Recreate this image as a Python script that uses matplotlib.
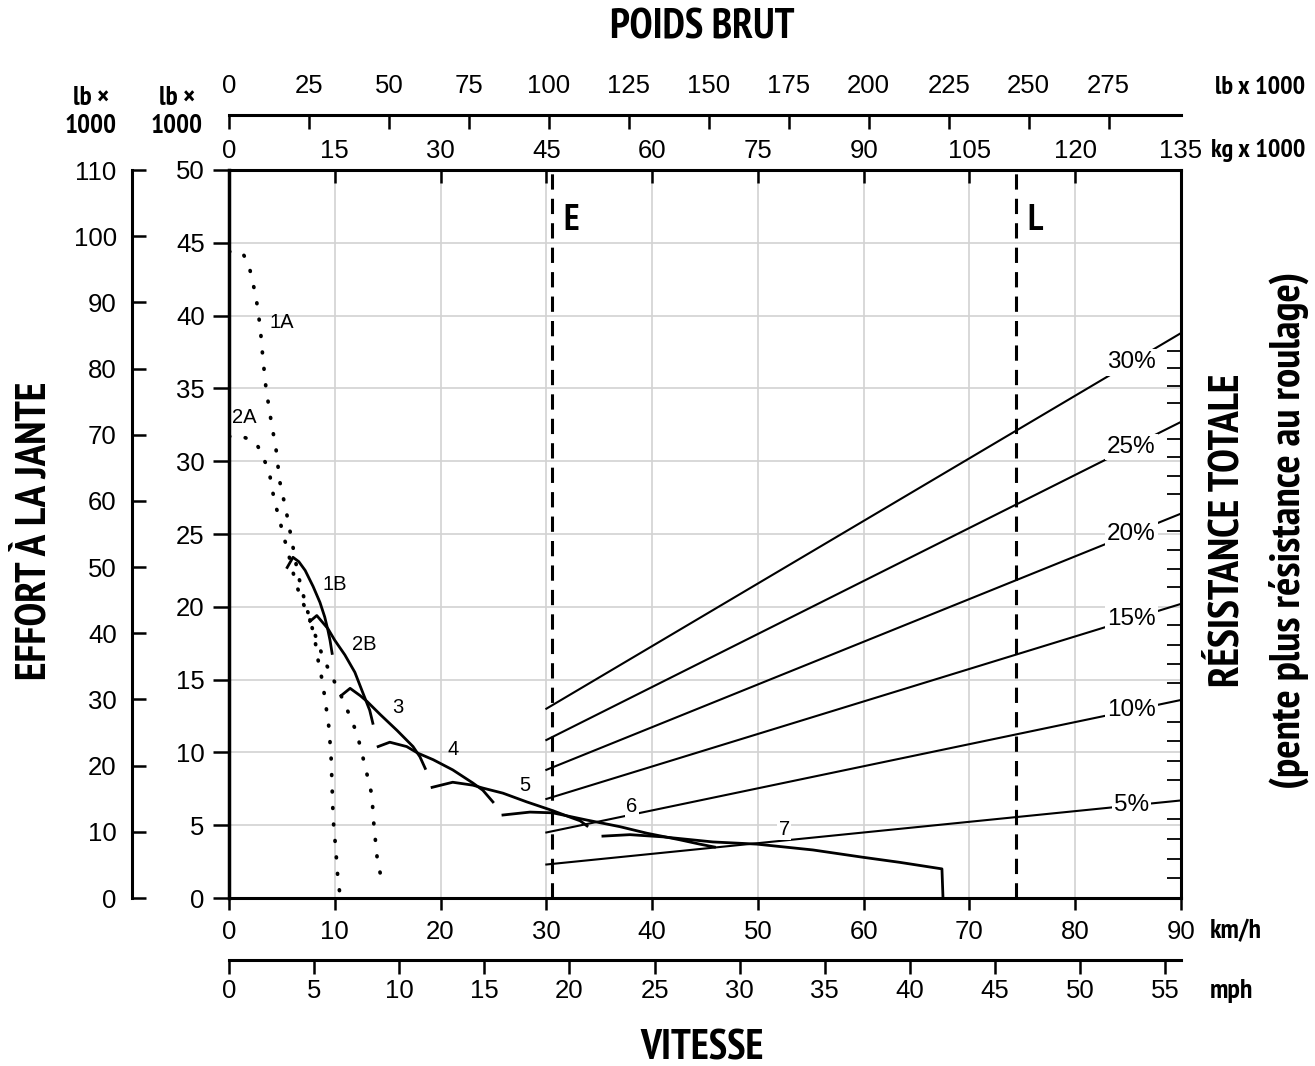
import numpy as np
import matplotlib.pyplot as plt
from matplotlib import font_manager
from matplotlib.font_manager import FontProperties

# --- ticks de los ejes ---
kmh_ticks = list(range(0, 91, 10))
mph_ticks = list(range(0, 56, 5))
effort_ticks = list(range(0, 51, 5))
effort_outer_ticks = list(range(0, 111, 10))
kg_ticks = list(range(0, 136, 15))
lb_ticks = list(range(0, 276, 25))
grade_minor_ticks = [g for g in range(1, 30) if g % 5]

# poids brut vide (E) / en charge (L), kg x 1000
weight_E = 45.8
weight_L = 111.6

# courbes convertisseur (pointillé)
speed_1A = [0.0, 1.3, 1.9, 2.55, 2.95, 3.2, 3.5, 3.95, 4.45, 4.8, 5.4, 5.95, 6.5, 7.2,
            7.85, 8.15, 8.5, 8.8, 9.05, 9.45, 9.65, 9.75, 9.85, 10.1, 10.3, 10.5]
force_1A = [44.4, 44.3, 43.4, 41.3, 39.2, 37.1, 35.0, 32.9, 30.8, 28.6, 26.6, 24.5, 22.3, 20.3,
            18.6, 17.6, 16.0, 15.0, 13.8, 11.7, 9.7, 7.55, 5.4, 3.3, 1.25, 0.2]
speed_2A = [0.0, 1.25, 2.55, 3.2, 3.8, 4.05, 4.35, 4.75, 5.1, 5.5, 6.25, 6.7, 7.65,
            8.9, 10.85, 12.1, 12.85, 13.5, 13.7, 14.0, 14.55]
force_2A = [31.7, 31.7, 31.3, 30.3, 29.3, 28.2, 27.1, 26.1, 25.0, 24.0, 21.8, 20.8, 19.1,
            16.5, 13.5, 11.3, 9.1, 7.1, 5.0, 2.8, 0.75]

# courbes prise directe (trait plein)
speed_1B = [5.5, 6.05, 6.6, 7.2, 7.95, 8.6, 9.05, 9.35, 9.55, 9.75]
force_1B = [22.7, 23.4, 23.1, 22.5, 21.4, 20.3, 19.3, 18.4, 17.7, 16.8]
speed_2B = [7.65, 8.3, 9.35, 10.0, 10.95, 11.9, 12.65, 13.3, 13.6]
force_2B = [19.0, 19.4, 18.5, 17.7, 16.7, 15.5, 14.1, 12.9, 12.0]
speed_3 = [10.6, 11.45, 12.4, 13.05, 14.3, 15.9, 17.4, 18.05, 18.55]
force_3 = [13.9, 14.4, 13.9, 13.5, 12.6, 11.5, 10.4, 9.7, 8.9]
speed_4 = [14.1, 15.2, 16.8, 17.85, 19.3, 21.15, 23.05, 24.0, 24.95]
force_4 = [10.4, 10.7, 10.4, 9.95, 9.5, 8.8, 7.9, 7.4, 6.6]
speed_5 = [19.2, 21.15, 23.05, 24.0, 25.9, 28.15, 30.6, 32.25, 33.2, 33.85]
force_5 = [7.6, 7.95, 7.75, 7.55, 7.2, 6.6, 6.0, 5.55, 5.3, 4.95]
speed_6 = [25.9, 28.45, 30.6, 33.85, 36.95, 39.5, 42.6, 44.5, 45.9]
force_6 = [5.7, 5.9, 5.85, 5.35, 4.9, 4.45, 4.0, 3.7, 3.5]
speed_7 = [35.35, 37.9, 41.0, 45.75, 49.9, 55.2, 59.9, 63.4, 67.4, 67.5]
force_7 = [4.25, 4.35, 4.2, 3.85, 3.7, 3.3, 2.8, 2.45, 2.0, 0.0]

# droites de résistance totale (30 -> 90 km/h)
grade_pct = [5, 10, 15, 20, 25, 30]
grade_speed = [30, 90]
grade_start = [2.3, 4.5, 6.8, 8.8, 10.85, 13.0]
grade_end = [6.7, 13.6, 20.2, 26.4, 32.7, 38.8]

# étiquettes des courbes
curve_names = ['1A', '2A', '1B', '2B', '3', '4', '5', '6', '7']
curve_lab_x = [5.0, 1.4, 10.0, 12.8, 16.0, 21.2, 28.0, 38.1, 52.5]
curve_lab_y = [39.5, 33.0, 21.5, 17.4, 13.1, 10.2, 7.7, 6.3, 4.7]

plt.rcParams['font.family'] = ['Liberation Sans', 'DejaVu Sans']


# busco una fuente bold estrecha (tipo Arial Narrow)
def pick_narrow_bold():
    best = None
    for f in font_manager.fontManager.ttflist:
        w = f.weight if isinstance(f.weight, int) else font_manager.weight_dict.get(f.weight, 400)
        label = (f.name + ' ' + f.fname).lower()
        narrowish = ('narrow' in label or 'condensed' in label
                     or f.stretch in ('condensed', 'semi-condensed', 'extra-condensed'))
        if not narrowish or f.style != 'normal' or not (650 <= w <= 750):
            continue
        rank = 0 if 'narrow' in label else 2
        if 'roboto' in label:
            rank = 1
        if 'extra' in label or 'semi' in label or 'ultra' in label:
            rank += 5
        if best is None or rank < best[0]:
            best = (rank, f.fname)
    return best[1] if best else None


narrow_file = pick_narrow_bold()
size_k = 1.0 if narrow_file else 0.8


def narrow_font(size):
    if narrow_file:
        return FontProperties(fname=narrow_file, size=size)
    return FontProperties(family='DejaVu Sans', weight='bold', size=size * size_k)


W, H = 1315, 1066


def fx(px):
    return px / W


def fy(py):
    return 1 - py / H


def bold(x, y, s, size, **kw):
    fig.text(fx(x), fy(y), s, fontproperties=narrow_font(size), va='center', **kw)


fig = plt.figure(figsize=(W / 100, H / 100), dpi=100)
ax = fig.add_axes([fx(229), fy(898), (1181 - 229) / W, (898 - 170) / H])
ax.set_xlim(0, 90)
ax.set_ylim(0, 50)
ax.set_axisbelow(True)
ax.grid(True, color='#d2d2d2', lw=1.2)

TICK_FS = 18.5
ax.set_xticks(kmh_ticks)
ax.set_yticks(effort_ticks)
ax.tick_params(axis='x', direction='out', length=8.5, width=1.8, pad=7, labelsize=TICK_FS)
ax.tick_params(axis='y', direction='out', length=11.5, width=1.8, pad=6, labelsize=TICK_FS)
ax.spines['left'].set_linewidth(2.5)
ax.spines['bottom'].set_linewidth(2.2)
ax.spines['right'].set_linewidth(2.0)
ax.spines['top'].set_linewidth(1.8)

# eje exterior izquierdo
outer = ax.secondary_yaxis(-97 / 952, functions=(lambda v: v * 2.2, lambda v: v / 2.2))
outer.set_yticks(effort_outer_ticks)
outer.tick_params(direction='in', length=10, width=1.8, pad=11, labelsize=TICK_FS)

# eje mph
mph = ax.secondary_xaxis(-62 / 728, functions=(lambda v: v / 1.609344, lambda v: v * 1.609344))
mph.set_xticks(mph_ticks)
mph.tick_params(direction='out', length=10, width=1.8, pad=4, labelsize=TICK_FS)

# ejes de peso arriba
kg = ax.secondary_xaxis('top', functions=(lambda v: v * 1.5, lambda v: v / 1.5))
kg.set_xticks(kg_ticks)
kg.tick_params(direction='in', length=9, width=1.8, pad=5, labelsize=TICK_FS)
lb = ax.secondary_xaxis(1 + 55 / 728, functions=(lambda v: v * 1.5 * 2.2046, lambda v: v / 1.5 / 2.2046))
lb.set_xticks(lb_ticks)
lb.tick_params(direction='in', length=10, width=1.8, pad=12, labelsize=TICK_FS)


# escala de pendiente a la derecha
def to_grade(v):
    return 100 * np.tan(np.arcsin(np.clip(np.asarray(v, float) / 135, -0.999, 0.999)))


def from_grade(g):
    return 135 * np.sin(np.arctan(np.asarray(g, float) / 100))


grade_ax = ax.secondary_yaxis('right', functions=(to_grade, from_grade))
grade_ax.set_yticks(grade_minor_ticks)
grade_ax.tick_params(direction='in', length=10, width=1.3, labelright=False)

# los ejes secundarios encima de la grilla
for sec in (outer, mph, kg, lb, grade_ax):
    sec.set_zorder(2.6)
    for sp in sec.spines.values():
        sp.set_linewidth(2.2)

# E / L
for w, name in ((weight_E, 'E'), (weight_L, 'L')):
    ax.axvline(w / 1.5, color='black', lw=2.2, ls=(0, (5, 3)), zorder=2)
    ax.text(w / 1.5 + 1.1, 46.5, name, fontproperties=narrow_font(26), va='center', ha='left')

# droites de pente
for g, y0, y1 in zip(grade_pct, grade_start, grade_end):
    ax.plot(grade_speed, [y0, y1], color='black', lw=1.5, zorder=3)
    xl = 85.3
    yl = y0 + (y1 - y0) * (xl - grade_speed[0]) / (grade_speed[1] - grade_speed[0])
    ax.text(xl, yl, f'{g}%', fontsize=17.5, ha='center', va='center', zorder=4,
            bbox=dict(facecolor='white', edgecolor='none', pad=1.5))

# courbes
dotted = (0, (0.2, 4.2))
ax.plot(speed_1A, force_1A, color='black', lw=2.7, ls=dotted, dash_capstyle='round', zorder=3)
ax.plot(speed_2A, force_2A, color='black', lw=2.7, ls=dotted, dash_capstyle='round', zorder=3)
for sx, fy_ in ((speed_1B, force_1B), (speed_2B, force_2B), (speed_3, force_3), (speed_4, force_4),
                (speed_5, force_5), (speed_6, force_6), (speed_7, force_7)):
    ax.plot(sx, fy_, color='black', lw=2.0, zorder=3, solid_joinstyle='round')

for name, x, y in zip(curve_names, curve_lab_x, curve_lab_y):
    box = dict(facecolor='white', edgecolor='none', pad=1) if name in ('6', '7') else None
    ax.text(x, y, name, fontsize=14.5, ha='center', va='center', zorder=5, bbox=box)

# titulos
bold(702, 28, 'POIDS BRUT', 30, ha='center')
bold(702, 1049, 'VITESSE', 30, ha='center')
bold(35, 531, 'EFFORT À LA JANTE', 31, ha='center', rotation=90)
bold(1228, 530, 'RÉSISTANCE TOTALE', 31, ha='center', rotation=90)
bold(1289, 530, '(pente plus résistance au roulage)', 31, ha='center', rotation=90)
bold(1305, 87, 'lb x 1000', 19, ha='right')
bold(1305, 150, 'kg x 1000', 19, ha='right')
bold(1210, 931, 'km/h', 20, ha='left')
bold(1210, 991, 'mph', 20, ha='left')
bold(91, 112, 'lb ×\n1000', 19.5, ha='center', linespacing=1.2)
bold(177, 112, 'lb ×\n1000', 19.5, ha='center', linespacing=1.2)

plt.savefig('out.png', dpi=100)
plt.close()
